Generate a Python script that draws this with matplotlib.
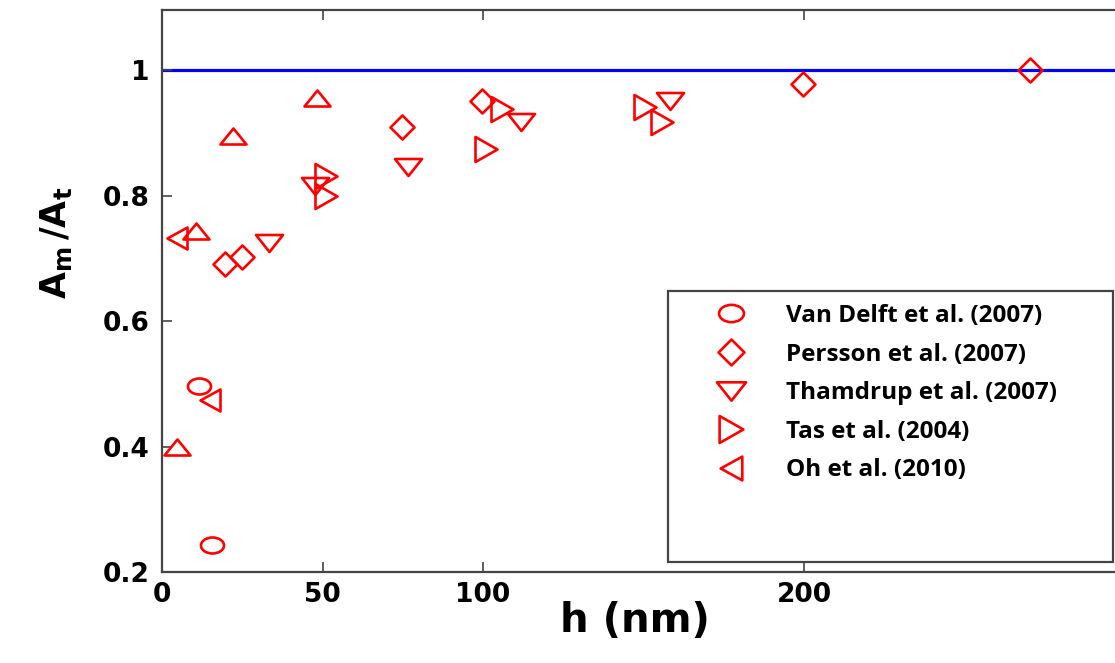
import numpy as np
import matplotlib
matplotlib.use("Agg")
import matplotlib.pyplot as plt
from matplotlib.path import Path
from matplotlib.patches import Rectangle
from matplotlib.lines import Line2D

# data
vandelft_h = [11.5, 15.7]
vandelft_r = [0.497, 0.243]
persson_h = [19.6, 25.0, 74.9, 99.8, 199.8, 270.4]
persson_r = [0.691, 0.702, 0.909, 0.951, 0.978, 1.0]
thamdrup_h = [33.3, 47.7, 76.7, 111.7, 158.3]
thamdrup_r = [0.724, 0.815, 0.846, 0.917, 0.951]
tas_h = [51.2, 51.2, 101.0, 105.8, 150.5, 155.9]
tas_r = [0.832, 0.800, 0.874, 0.938, 0.941, 0.918]
oh_h = [4.8, 15.0]
oh_r = [0.732, 0.474]
other_h = [4.8, 10.5, 22.2, 48.2]
other_r = [0.399, 0.744, 0.895, 0.956]

labels = ["Van Delft et al. (2007)", "Persson et al. (2007)",
          "Thamdrup et al. (2007)", "Tas et al. (2004)", "Oh et al. (2010)"]
xticks = [0, 50, 100, 200]
yticks = [0.2, 0.4, 0.6, 0.8, 1.0]
ytick_labels = ["0.2", "0.4", "0.6", "0.8", "1"]

PT = 0.72  # points per pixel at dpi 100


def marker(verts):
    """Build a stretched marker path, return it with its size in points."""
    verts = np.asarray(verts, float)
    codes = [Path.MOVETO] + [Path.LINETO] * (len(verts) - 2) + [Path.CLOSEPOLY]
    size = 2 * np.abs(verts).max() * PT
    return Path(verts, codes), size


def ellipse(w, h):
    uc = Path.unit_circle()
    return Path(uc.vertices * [w / 2, h / 2], uc.codes), w * PT


def tri(w, h, d):
    a, b = w / 2, h / 2
    if d == "up":
        v = [(-a, -b), (a, -b), (0, b), (-a, -b)]
    elif d == "down":
        v = [(-a, b), (a, b), (0, -b), (-a, b)]
    elif d == "right":
        v = [(-a, -b), (-a, b), (a, 0), (-a, -b)]
    else:
        v = [(a, -b), (a, b), (-a, 0), (a, -b)]
    return marker(v)


m_circ = ellipse(23, 16)
m_diam = marker([(0, 12), (12, 0), (0, -12), (-12, 0), (0, 12)])
m_down = tri(27, 17, "down")
m_right = tri(22, 25, "right")
m_left = tri(20, 22, "left")
m_up = tri(26, 16, "up")

fig = plt.figure(figsize=(11.15, 6.63), dpi=100)
ax = fig.add_axes([162 / 1115, 91 / 663, 956 / 1115, 562 / 663])

ax.axhline(1.0, color="#0000ff", lw=2.3, zorder=1)

series = [
    (vandelft_h, vandelft_r, m_circ),
    (persson_h, persson_r, m_diam),
    (thamdrup_h, thamdrup_r, m_down),
    (tas_h, tas_r, m_right),
    (oh_h, oh_r, m_left),
    (other_h, other_r, m_up),
]
for xs, ys, (p, s) in series:
    ax.plot(xs, ys, linestyle="none", marker=p, markersize=s,
            markerfacecolor="none", markeredgecolor="#ff0000",
            markeredgewidth=1.9, zorder=3)

ax.set_xlim(0, 297.8)
ax.set_ylim(0.2, 1.096)
ax.set_xticks(xticks)
ax.set_xticklabels([str(t) for t in xticks])
ax.set_yticks(yticks)
ax.set_yticklabels(ytick_labels)
ax.tick_params(direction="in", length=7, width=1.2, color="#444444",
               top=True, right=False, labelsize=19)
ax.tick_params(axis="y", pad=9)
ax.tick_params(axis="x", pad=7)
for lab in ax.get_xticklabels() + ax.get_yticklabels():
    lab.set_fontweight("bold")
for sp in ax.spines.values():
    sp.set_color("#444444")
    sp.set_linewidth(1.6)

ax.set_xlabel("h (nm)", fontsize=29, fontweight="bold")
ax.xaxis.set_label_coords(0.495, -0.052)
plt.rcParams["mathtext.fontset"] = "dejavusans"
ax.set_ylabel(r"$\mathbf{A_m\,/A_t}$", fontsize=25)
ax.yaxis.set_label_coords(-0.092, 0.585)

# legend box
box = Rectangle((668 / 1115, 101 / 663), 445 / 1115, 271 / 663,
                transform=fig.transFigure, facecolor="white",
                edgecolor="#444444", linewidth=1.6, zorder=5)
fig.patches.append(box)

handles = [Line2D([], [], linestyle="none", marker=p, markersize=s * 1.08,
                  markerfacecolor="none", markeredgecolor="#ff0000",
                  markeredgewidth=1.9)
           for (_, _, (p, s)) in series[:5]]
leg = fig.legend(handles, labels, loc="upper left",
                 bbox_to_anchor=(707 / 1115, 1 - 304 / 663),
                 frameon=False, borderpad=0, borderaxespad=0,
                 handlelength=2.0, handletextpad=1.26, labelspacing=0.6,
                 numpoints=1, prop={"family": "Open Sans", "weight": "bold",
                                    "size": 17.5})
leg.set_zorder(6)

fig.savefig("out.png", dpi=100)
